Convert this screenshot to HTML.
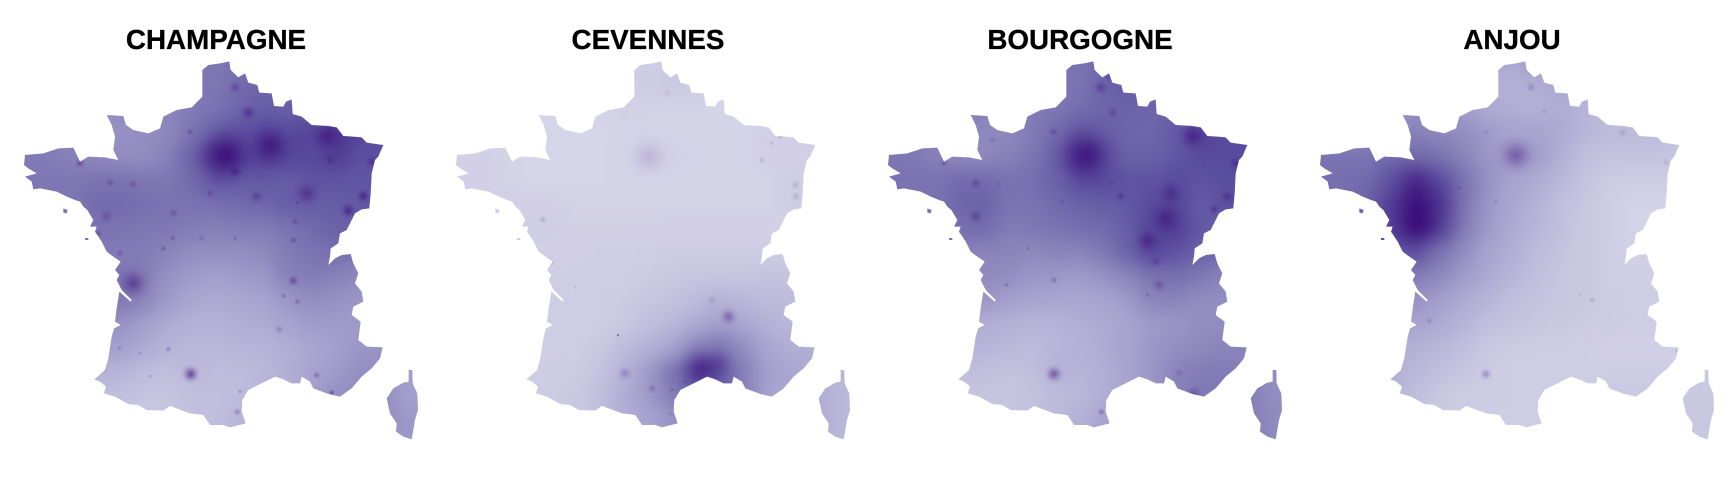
<!DOCTYPE html>
<html lang="en">
<head>
<meta charset="utf-8">
<title>France density maps</title>
<style>
html,body{margin:0;padding:0;background:#fff;width:1728px;height:480px;overflow:hidden}
svg{display:block}
.title{font-family:"Liberation Sans",Arial,sans-serif;font-weight:700;font-size:27.8px;fill:#000;text-anchor:middle;stroke:#000;stroke-width:.3px}
</style>
</head>
<body>
<svg id="chart" xmlns="http://www.w3.org/2000/svg" width="1728" height="480" viewBox="0 0 1728 480">
  <defs>
    <clipPath id="france-clip" clipPathUnits="userSpaceOnUse">
      <polygon points="607,210 625,195 660,190 688,184 692,210 715,232 735,220 745,248 772,255 778,278 815,280 822,318 850,320 858,305 875,298 878,342 905,350 935,375 985,378 1010,382 1030,408 1060,410 1085,412 1100,428 1150,435 1135,470 1125,480 1115,520 1112,580 1108,625 1085,628 1065,640 1040,690 1020,700 1015,730 992,745 990,770 985,795 1005,775 1025,765 1052,762 1060,790 1075,820 1065,850 1085,875 1090,905 1060,920 1055,945 1082,965 1075,1020 1100,1040 1148,1042 1140,1075 1115,1105 1085,1130 1055,1165 1020,1190 985,1182 940,1165 930,1145 905,1130 900,1150 875,1150 850,1138 825,1130 775,1155 745,1170 727,1200 725,1235 737,1270 690,1282 670,1275 630,1275 610,1245 570,1240 510,1218 490,1232 440,1230 415,1215 385,1212 345,1190 312,1180 318,1160 300,1145 283,1138 315,1110 325,1075 335,1010 342,985 362,975 345,965 350,925 358,875 392,905 395,900 365,870 350,840 358,825 345,810 362,785 340,770 320,755 305,725 285,695 290,680 270,680 280,660 262,630 250,620 240,605 225,600 200,590 170,575 120,565 100,568 95,545 75,530 110,520 85,505 72,495 75,465 130,460 175,445 220,443 240,485 265,470 315,472 355,480 340,450 345,410 335,375 320,345 370,348 378,375 400,390 445,400 480,385 490,350 530,330 575,322 607,290"/>
      <polygon points="1226,1110 1237,1110 1238,1150 1252,1180 1254,1230 1245,1260 1240,1290 1235,1318 1210,1310 1188,1295 1190,1270 1170,1240 1160,1195 1180,1165 1210,1148 1226,1145"/>
      <polygon points="190,625 203,630 200,640 190,638"/>
      <polygon points="255,714 265,714 265,720 255,720"/>
    </clipPath>
    <filter id="soften" filterUnits="userSpaceOnUse" x="-100" y="-100" width="1500" height="1700" color-interpolation-filters="sRGB">
      <feGaussianBlur stdDeviation="27"/>
    </filter>
    <radialGradient id="hotspot-fade">
      <stop offset="0" stop-color="#3a0a78" stop-opacity="1"/>
      <stop offset="0.25" stop-color="#3a0a78" stop-opacity="0.72"/>
      <stop offset="0.5" stop-color="#3a0a78" stop-opacity="0.36"/>
      <stop offset="0.75" stop-color="#3a0a78" stop-opacity="0.1"/>
      <stop offset="1" stop-color="#3a0a78" stop-opacity="0"/>
    </radialGradient>
  </defs>

  <g id="panel-0">
    <text class="title" x="216" y="49">CHAMPAGNE</text>
  </g>
  <g id="panel-1">
    <text class="title" x="648" y="49">CEVENNES</text>
  </g>
  <g id="panel-2">
    <text class="title" x="1080" y="49">BOURGOGNE</text>
  </g>
  <g id="panel-3">
    <text class="title" x="1512" y="49">ANJOU</text>
  </g>
</svg>

<script>
// Density on a coarse west-east / north-south grid (0 = palest, 100 = darkest)
const champagneGrid = [
[55,55,55,55,55,55,58,60,60,62,65,65,70,70,72,72,60],
[55,55,55,55,55,55,58,60,60,66,68,68,70,72,72,72,60],
[52,52,52,52,50,50,54,58,62,68,72,70,72,75,75,75,60],
[52,52,52,50,48,50,52,62,72,78,80,80,82,88,82,78,60],
[60,58,56,52,50,50,56,70,88,80,84,82,80,85,78,78,60],
[60,60,60,62,62,60,60,66,76,74,74,72,76,76,74,78,60],
[60,60,60,66,66,64,62,62,64,66,68,72,72,72,74,76,60],
[60,60,60,62,62,60,60,58,56,58,58,62,66,70,72,72,60],
[58,58,58,58,58,58,54,50,50,50,52,58,62,64,62,60,55],
[55,55,55,55,62,58,48,44,42,44,46,56,58,56,52,50,50],
[55,55,55,55,60,54,44,38,36,38,40,46,50,48,46,46,46],
[45,45,45,48,48,42,36,32,32,34,36,40,44,44,44,44,44],
[40,40,40,42,42,36,30,28,28,30,30,34,38,42,46,48,48],
[30,30,30,30,30,26,24,28,26,26,28,34,40,44,50,50,42],
[26,26,26,26,24,20,20,24,24,26,30,34,42,50,50,50,42],
[26,26,26,26,24,20,22,24,24,30,34,40,42,45,50,50,45],
[30,30,30,30,28,26,26,28,28,32,36,40,42,45,45,45,45]
];
const cevennesGrid = [
[10,10,10,10,10,10,12,14,14,14,14,12,12,12,12,12,22],
[10,10,10,10,10,10,12,14,16,18,16,12,10,10,10,10,22],
[10,10,10,10,9,9,10,11,10,10,10,9,8,8,8,8,22],
[8,8,8,8,8,8,8,9,10,9,9,9,9,12,14,12,22],
[12,12,10,8,8,8,8,10,14,12,9,9,9,12,12,12,22],
[12,12,10,8,8,8,8,10,10,9,9,9,10,10,14,14,22],
[12,12,12,12,11,10,10,10,10,10,10,10,10,10,14,14,22],
[12,12,12,14,14,11,11,11,11,12,12,12,12,12,12,12,22],
[12,12,12,13,12,12,13,13,14,15,15,15,15,15,15,15,22],
[12,12,12,12,13,14,14,14,16,18,20,20,20,22,22,22,22],
[14,14,14,14,14,14,14,16,20,22,26,32,28,26,26,26,24],
[14,14,14,14,14,14,14,18,24,28,36,42,38,32,28,28,24],
[14,14,14,14,14,14,18,26,32,40,56,62,50,38,34,34,26],
[14,14,14,14,15,16,22,32,44,62,80,76,56,42,38,36,28],
[16,16,16,16,16,18,24,34,44,56,70,70,56,40,38,36,28],
[16,16,16,16,16,18,24,34,40,46,60,60,50,40,38,36,28],
[16,16,16,16,16,18,24,34,40,46,60,60,50,40,38,36,28]
];
const bourgogneGrid = [
[62,62,62,62,62,62,62,62,62,66,68,68,70,70,70,70,62],
[62,62,62,62,60,60,60,60,62,70,72,70,72,72,72,72,62],
[58,58,58,58,56,56,58,60,64,68,70,68,70,72,72,72,62],
[56,56,56,54,52,52,58,66,76,72,68,68,74,85,78,78,62],
[60,60,56,52,52,56,60,72,88,78,70,70,74,80,80,80,62],
[62,62,62,66,66,62,64,70,80,80,76,76,80,76,78,80,62],
[62,62,62,68,70,62,62,66,70,72,74,80,82,72,78,80,62],
[60,60,60,64,66,58,60,62,64,66,72,82,84,74,72,72,62],
[56,56,56,56,54,54,52,54,54,60,70,82,76,70,68,66,60],
[50,50,50,50,52,50,46,46,44,48,54,62,64,60,54,52,52],
[46,46,46,46,46,42,40,38,38,40,44,54,54,50,50,50,50],
[36,36,36,36,34,32,30,30,34,36,40,44,46,50,50,50,50],
[30,30,30,30,30,28,26,30,32,36,40,46,50,52,54,54,52],
[24,24,24,24,24,22,24,32,30,34,40,46,54,58,58,58,50],
[22,22,22,22,20,20,22,26,28,34,40,46,56,60,58,58,50],
[24,24,24,24,22,22,24,28,32,40,46,50,56,58,56,56,52],
[26,26,26,26,24,24,26,30,34,40,46,50,56,58,56,56,52]
];
const anjouGrid = [
[40,40,40,40,36,36,36,38,38,42,36,36,30,30,30,26,22],
[40,40,40,40,36,36,36,36,32,36,36,36,30,30,30,26,22],
[46,46,46,46,50,46,42,36,34,32,36,30,26,26,26,26,22],
[50,50,50,50,56,52,50,44,40,40,36,30,26,26,26,22,22],
[62,62,62,66,66,62,54,46,44,44,34,24,22,22,22,20,20],
[64,64,66,78,92,80,62,48,40,36,28,22,16,14,14,14,18],
[64,64,70,85,100,88,62,46,38,32,24,20,14,10,10,10,18],
[64,64,70,85,100,85,58,44,36,30,24,18,14,10,10,10,18],
[64,64,64,76,78,62,50,40,34,26,22,18,14,12,12,12,18],
[50,50,50,56,58,52,44,36,30,24,20,18,14,14,14,14,18],
[46,46,46,46,48,42,36,30,24,22,20,18,15,14,14,14,18],
[42,42,42,42,40,36,30,24,22,20,18,16,16,14,14,14,18],
[40,40,38,36,32,28,24,18,16,14,14,14,12,12,12,12,18],
[34,34,34,32,28,24,20,16,14,14,14,14,14,14,14,14,18],
[30,30,30,30,24,18,14,16,14,14,14,14,18,18,18,18,18],
[30,30,30,30,24,18,14,14,14,14,14,14,18,18,18,18,18],
[30,30,30,30,24,18,14,14,14,14,14,14,18,18,18,18,18]
];

// Local concentrations: [map-east, map-south, intensity 0-1, spread]
const champagneSpots = [
[680,465,.85,100],[810,435,.7,80],[400,850,.5,55],[572,1122,.65,30],[1045,632,.6,28],[1090,588,.6,24],
[980,410,.5,50],[920,580,.45,45],[745,338,.5,28],[705,262,.35,24],[880,842,.45,20],[240,490,.4,18],
[330,548,.3,16],[400,552,.3,16],[520,640,.3,18],[320,650,.25,26],[295,700,.3,14],[360,760,.3,14],
[1115,485,.4,22],[990,480,.4,18],[705,515,.5,24],[880,720,.35,14],[885,665,.3,14],[605,715,.2,14],
[705,715,.4,7],[490,745,.3,12],[518,715,.3,12],[505,1048,.3,12],[838,988,.25,16],[892,905,.3,14],
[850,888,.3,10],[950,1125,.35,14],[995,1178,.5,12],[712,1236,.3,14],[720,1175,.3,9],[358,1045,.25,9],
[420,1060,.25,7],[450,1128,.5,5],[315,1112,.2,7],[892,608,.5,7],[630,580,.35,14],[770,590,.35,26],[570,395,.3,14]
];
const cevennesSpots = [
[810,1105,.55,80],[890,950,.4,32],[860,1090,.25,55],[660,1165,.25,18],[578,1120,.25,26],[333,658,.2,14],
[650,470,.12,70],[1090,555,.15,18],[1092,590,.15,18],[990,480,.15,14],[705,280,.1,14],[840,900,.15,18],
[720,1170,.2,10],[760,1145,.25,10],[715,1240,.15,9],[558,1005,1,5],[1045,410,.25,9],[1018,430,.15,10],
[360,790,.2,9],[430,862,.15,7]
];
const bourgogneSpots = [
[670,465,.7,100],[985,410,.5,45],[905,655,.5,60],[850,722,.5,45],[920,580,.4,45],[710,262,.4,26],
[735,230,.3,18],[570,1122,.5,32],[335,650,.35,26],[335,550,.35,20],[1090,590,.4,24],[1115,490,.4,20],
[1050,628,.4,18],[885,855,.3,26],[875,785,.3,20],[745,338,.3,20],[770,590,.35,20],[712,1236,.35,14],
[240,490,.3,14],[428,855,.3,10],[570,840,.3,14],[385,420,.2,14],[402,552,.2,10],[945,1120,.2,18],
[990,1180,.3,26],[568,395,.3,18],[492,745,.25,9],[850,885,.25,10],[595,605,.4,6],[745,550,.4,6],[1020,495,.4,6]
];
const anjouSpots = [
[660,465,.42,65],[570,1122,.3,22],[705,262,.2,18],[980,398,.15,18],[400,962,.2,14],[888,900,.15,14],
[745,335,.15,10],[490,565,.2,10],[570,398,.15,10],[375,660,.45,65],[600,605,.35,6],[1140,1052,.2,7],
[852,885,.12,9],[1110,488,.12,14]
];

const panelGrids = [champagneGrid, cevennesGrid, bourgogneGrid, anjouGrid];
const panelSpots = [champagneSpots, cevennesSpots, bourgogneSpots, anjouSpots];
const panelKeys = ["champagne", "cevennes", "bourgogne", "anjou"];

const SVG_NS = "http://www.w3.org/2000/svg";
const CELL = 72;
const PANEL_WIDTH = 432;
function colX(col) { return 72 + CELL * col; }
function rowY(row) { return 180 + CELL * row; }
const rampStops = [[0,[224,222,238]],[20,[200,197,224]],[40,[168,163,207]],[60,[127,119,179]],[80,[87,74,157]],[100,[58,10,120]]];
function densityColor(v) {
  const t = Math.max(0, Math.min(100, v));
  for (let i = 1; i < rampStops.length; i++) {
    if (t <= rampStops[i][0]) {
      const a = rampStops[i - 1], b = rampStops[i];
      const f = (t - a[0]) / (b[0] - a[0]);
      const c = a[1].map((x, k) => Math.round(x + (b[1][k] - x) * f));
      return "rgb(" + c.join(",") + ")";
    }
  }
  return "rgb(58,10,120)";
}

panelGrids.forEach(function (grid, p) {
  const parent = document.getElementById("panel-" + p);
  const map = document.createElementNS(SVG_NS, "g");
  map.setAttribute("transform", "translate(" + (PANEL_WIDTH * p) + ",0) scale(" + (1 / 3) + ")");
  map.setAttribute("clip-path", "url(#france-clip)");
  
  
  const field = document.createElementNS(SVG_NS, "g");
  field.setAttribute("filter", "url(#soften)");
  
  
  map.appendChild(field);

  const lastRow = grid.length - 1;
  grid.forEach(function (rowValues, r) {
    const lastCol = rowValues.length - 1;
    rowValues.forEach(function (v, c) {
      const cell = document.createElementNS(SVG_NS, "rect");
      const bleedL = c === 0 ? CELL : 0, bleedR = c === lastCol ? CELL : 0;
      const bleedT = r === 0 ? CELL : 0, bleedB = r === lastRow ? CELL : 0;
      cell.setAttribute("x", colX(c) - CELL / 2 - bleedL);
      cell.setAttribute("y", rowY(r) - CELL / 2 - bleedT);
      cell.setAttribute("width", CELL + 1 + bleedL + bleedR);
      cell.setAttribute("height", CELL + 1 + bleedT + bleedB);
      cell.setAttribute("fill", densityColor(v));
      
      
      field.appendChild(cell);
    });
  });

  panelSpots[p].forEach(function (s) {
    const spot = document.createElementNS(SVG_NS, "circle");
    spot.setAttribute("cx", s[0]);
    spot.setAttribute("cy", s[1]);
    spot.setAttribute("r", s[3]);
    spot.setAttribute("fill", "url(#hotspot-fade)");
    spot.setAttribute("fill-opacity", s[2]);
    
    
    map.appendChild(spot);
  });
  parent.insertBefore(map, parent.firstChild);
});
</script>
</body>
</html>
